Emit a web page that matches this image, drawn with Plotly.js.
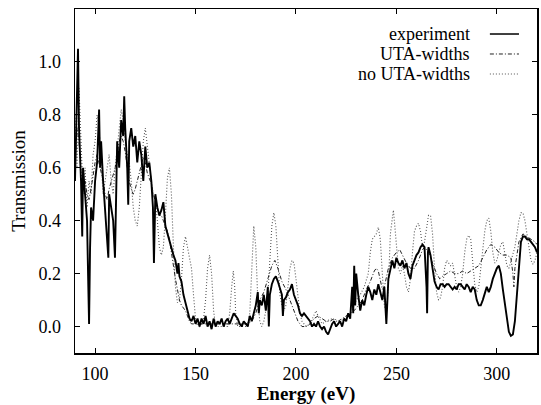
<!DOCTYPE html>
<html>
<head>
<meta charset="utf-8">
<script src="https://cdn.plot.ly/plotly-3.0.1.min.js"></script>
<style>html,body{margin:0;padding:0;background:#fff}#chart{width:541px;height:405px}</style>
</head>
<body>
<div id="chart"></div>
<script>
// experiment
const expE = [90,91,91.5,92,93,93.6,94,95,96,96.5,97,97.5,98,99,100,101,102,102.5,103,104,105,106,106.6,107,108,109,109.9,110.5,111,112,113,114,114.5,115,116,116.5,117,118,119,120,121,122,123,124,125,126,127,128,128.8,129.3,130,131,132,133,134,135,136,137,138,139,140,141,141.5,142,143,144,145,146,147,148,149,150,151,152,153,154,155,156,157,158,159,160,161,162,163,164,165,166,167,168,169,170,171,172,173,174,175,176,177,178,179,180,181,181.5,182,183,184,185,186,186.5,187,188,189,190,191,192,193,193.5,194,195,196,197,198,199,200,201,202,203,204,205,206,207,208,209,210,211,212,213,214,215,216,217,218,219,220,221,222,223,224,225,226,227,228,228.5,229,229.5,230,231,232,233,234,235,236,237,238,239,240,241,242,243,244,245,246,247,248,249,250,251,252,253,254,255,256,257,258,259,260,261,262,263,264,265,265.3,265.7,266,267,268,269,270,271,272,273,274,275,276,277,278,279,280,281,282,283,284,285,286,287,288,289,290,291,292,293,294,295,296,297,298,299,300,301,302,303,304,305,306,307,308,309,310,311,312,313,314,315,316,317,318,319,320];
const expT = [0.55,0.95,1.05,0.75,0.55,0.34,0.60,0.50,0.40,0.20,0.01,0.30,0.45,0.40,0.55,0.62,0.82,0.60,0.70,0.55,0.45,0.35,0.26,0.50,0.45,0.40,0.26,0.55,0.70,0.60,0.78,0.72,0.87,0.75,0.60,0.46,0.70,0.75,0.68,0.72,0.62,0.70,0.65,0.55,0.68,0.60,0.62,0.55,0.45,0.24,0.50,0.45,0.42,0.44,0.47,0.38,0.35,0.32,0.30,0.27,0.25,0.20,0.24,0.19,0.17,0.12,0.09,0.06,0.03,0.02,0.04,0.01,0.03,0.00,0.03,0.01,0.04,0.00,0.02,-0.01,0.03,0.00,0.02,0.01,0.03,0.00,0.02,0.03,0.01,0.03,0.05,0.04,0.03,0.01,0.00,0.02,0.01,0.00,0.04,0.02,0.05,0.08,0.13,0.05,0.10,0.08,0.12,0.06,0.15,0.00,0.12,0.16,0.18,0.19,0.17,0.14,0.12,0.04,0.10,0.11,0.13,0.14,0.16,0.12,0.10,0.08,0.05,0.04,0.05,0.04,0.03,0.02,0.00,0.01,0.00,0.02,0.00,-0.01,0.00,-0.02,-0.03,-0.01,0.01,0.02,0.00,0.01,0.02,0.00,0.03,0.02,0.05,0.03,0.15,0.05,0.23,0.08,0.20,0.12,0.06,0.10,0.08,0.12,0.15,0.13,0.10,0.14,0.12,0.16,0.13,0.10,0.15,0.01,0.18,0.22,0.25,0.22,0.26,0.24,0.23,0.25,0.22,0.24,0.20,0.18,0.23,0.25,0.27,0.28,0.30,0.31,0.30,0.15,0.05,0.28,0.30,0.27,0.22,0.17,0.15,0.14,0.16,0.16,0.15,0.16,0.16,0.15,0.14,0.15,0.14,0.16,0.16,0.15,0.14,0.16,0.15,0.13,0.15,0.14,0.10,0.08,0.08,0.10,0.13,0.15,0.13,0.15,0.18,0.20,0.22,0.23,0.20,0.14,0.08,0.02,-0.02,-0.035,-0.03,0.02,0.12,0.25,0.32,0.34,0.34,0.33,0.33,0.32,0.31,0.30,0.28];

// UTA-widths
const utaE = [90,91,92,93,94,95,96,97,98,99,100,101,102,103,104,105,106,107,108,109,110,111,112,113,114,115,116,117,118,119,120,121,122,123,124,125,126,127,128,129,130,131,132,133,134,135,136,137,138,139,140,141,142,143,144,145,146,147,148,150,155,160,165,170,175,178,180,182,184,186,188,189.5,191,193,195,197,199,201,203,205,207,209,211,213,215,217,219,221,223,225,227,229,231,233,235,237,239,240,241,242,243,244,245,246,248,250,251.7,253,255,257,259,261,263,264,266,268,270,271.6,273,275,277,279,281,283,285,287,289,291,293,295,297,299,301,303,305,307,308,308.5,309,310,311,313,315,317,319,320];
const utaT = [0.60,0.75,0.70,0.58,0.52,0.55,0.50,0.48,0.52,0.58,0.62,0.65,0.62,0.58,0.55,0.50,0.48,0.52,0.55,0.58,0.60,0.65,0.70,0.72,0.70,0.66,0.60,0.55,0.52,0.50,0.52,0.55,0.58,0.62,0.64,0.62,0.58,0.56,0.54,0.50,0.47,0.44,0.42,0.42,0.40,0.38,0.36,0.33,0.28,0.22,0.18,0.14,0.10,0.08,0.07,0.06,0.04,0.02,0.01,0.01,0.01,0.01,0.01,0.01,0.01,0.02,0.05,0.10,0.13,0.18,0.23,0.25,0.22,0.17,0.14,0.10,0.06,0.02,0.00,0.00,0.01,0.03,0.04,0.03,0.02,0.02,0.03,0.02,0.03,0.04,0.05,0.06,0.08,0.10,0.14,0.17,0.21,0.22,0.21,0.17,0.14,0.15,0.18,0.22,0.26,0.28,0.29,0.27,0.24,0.22,0.22,0.25,0.29,0.30,0.28,0.24,0.20,0.18,0.19,0.20,0.21,0.20,0.20,0.21,0.20,0.21,0.22,0.23,0.26,0.29,0.31,0.30,0.28,0.27,0.27,0.26,0.20,0.15,0.22,0.28,0.32,0.35,0.34,0.33,0.32,0.31];

// no UTA-widths
const noE = [90,91,92,93,94,95,96,97,98,99,100,101,102,103,104,105,106,107,108,109,110,111,112,113,114,115,116,117,118,119,120,121,122,123,124,125,126,127,128,129,130,131,132,133,134,135,136,137,138,139,140,141,142,143,144,145,146,147,148,149,150,151,152,153,154,155,156,157,158,159,160,166,167,168,168.8,169.5,170,171,176,177,178,179,180,181,182,183,184,185,186,187,188,189,190,191,192,193,194,195,196,197,198,199,200,201,202,203,204,205,207,209,210,211,213,215,218,220,222,224,226,228,230,232,234,236,237,238,239,240,241,242,243,244,245,246,247,248,248.5,249,250,251,252,253,254,255,256,257,258,259,260,261,262,263,264,265,266,267,268,269,270,271,272,273,274,275,276,277,278,279,280,281,282,283,284,285,286,287,288,289,290,291,292,293,294,295,296,297,298,299,300,301,302,303,304,305,306,307,308,309,310,311,312,313,314,315,316,317,318,319,320];
const noT = [0.80,0.60,0.90,0.70,0.50,0.60,0.45,0.55,0.50,0.65,0.70,0.80,0.75,0.62,0.50,0.55,0.60,0.65,0.55,0.50,0.60,0.68,0.75,0.82,0.78,0.70,0.65,0.62,0.55,0.45,0.40,0.38,0.45,0.60,0.70,0.75,0.68,0.60,0.55,0.50,0.48,0.40,0.30,0.27,0.30,0.42,0.56,0.60,0.50,0.30,0.15,0.09,0.10,0.18,0.30,0.34,0.30,0.25,0.22,0.12,0.03,0.01,0.00,0.01,0.03,0.10,0.22,0.27,0.20,0.06,0.00,0.00,0.05,0.15,0.21,0.15,0.05,0.00,0.00,0.05,0.25,0.38,0.30,0.10,0.02,0.00,0.02,0.06,0.12,0.25,0.38,0.43,0.38,0.25,0.12,0.08,0.06,0.08,0.15,0.22,0.25,0.24,0.18,0.10,0.05,0.02,0.01,0.00,0.01,0.04,0.06,0.04,0.01,0.02,0.03,0.02,0.02,0.03,0.04,0.06,0.10,0.12,0.15,0.20,0.28,0.33,0.34,0.35,0.375,0.33,0.20,0.08,0.05,0.15,0.35,0.42,0.44,0.40,0.30,0.22,0.20,0.23,0.20,0.15,0.13,0.18,0.28,0.36,0.38,0.39,0.36,0.30,0.32,0.38,0.42,0.42,0.35,0.22,0.13,0.10,0.11,0.15,0.22,0.25,0.24,0.23,0.24,0.20,0.15,0.13,0.15,0.20,0.28,0.33,0.345,0.33,0.25,0.16,0.13,0.15,0.22,0.30,0.36,0.40,0.41,0.36,0.28,0.24,0.25,0.28,0.31,0.32,0.28,0.23,0.22,0.25,0.28,0.30,0.35,0.40,0.43,0.43,0.40,0.35,0.30,0.25,0.235,0.25,0.28];

const xTicks = [100,150,200,250,300];
const yTicks = [0.0,0.2,0.4,0.6,0.8,1.0];
const yTickText = ["0.0","0.2","0.4","0.6","0.8","1.0"];
const legendNames = ["experiment","UTA-widths","no UTA-widths"];

const serif = "Liberation Serif, Times New Roman, serif";
const dashDot = "4px,2px,1px,2px";
const dotted = "1px,2px";

const traces = [
  {x: noE, y: noT, mode: "lines", name: legendNames[2], line: {color: "#555", width: 1.1, dash: dotted}},
  {x: utaE, y: utaT, mode: "lines", name: legendNames[1], line: {color: "#222", width: 1, dash: dashDot}},
  {x: expE, y: expT, mode: "lines", name: legendNames[0], line: {color: "#000", width: 1.9}}
];

const legY = [0.9273, 0.8692, 0.8110];
const legStyles = [
  {color: "#000", width: 1.5, dash: "solid"},
  {color: "#222", width: 1, dash: dashDot},
  {color: "#555", width: 1.1, dash: dotted}
];
const annotations = legendNames.map((t, i) => ({
  xref: "paper", yref: "paper", x: 0.857, y: legY[i], xanchor: "right", yanchor: "middle", align: "right",
  borderpad: 0, text: t, showarrow: false, font: {family: serif, size: 18, color: "#000"}
}));
const shapes = legendNames.map((t, i) => ({
  type: "line", xref: "paper", yref: "paper", x0: 0.898, x1: 0.961, y0: legY[i], y1: legY[i],
  line: legStyles[i]
}));

const layout = {
  width: 541, height: 405,
  margin: {l: 75, r: 4, t: 9, b: 52},
  paper_bgcolor: "#fff", plot_bgcolor: "#fff",
  showlegend: false,
  font: {family: serif, size: 18, color: "#000"},
  xaxis: {
    range: [90, 320], tickvals: xTicks, ticks: "inside", ticklen: 5, tickcolor: "#000",
    showline: true, linecolor: "#000", linewidth: 1.5, mirror: "ticks", showgrid: false, zeroline: false,
    title: {text: "<b>Energy (eV)</b>", font: {family: serif, size: 19}, standoff: 6},
    tickfont: {family: serif, size: 18}, ticklabelstandoff: 4
  },
  yaxis: {
    range: [-0.1, 1.2], tickvals: yTicks, ticktext: yTickText, ticks: "inside", ticklen: 5, tickcolor: "#000",
    showline: true, linecolor: "#000", linewidth: 1.5, mirror: "ticks", showgrid: false, zeroline: false,
    title: {text: "Transmission", font: {family: serif, size: 19}, standoff: 8},
    tickfont: {family: serif, size: 18}, ticklabelstandoff: 9
  },
  annotations: annotations,
  shapes: shapes
};

Plotly.newPlot("chart", traces, layout, {displayModeBar: false, staticPlot: true});
</script>
</body>
</html>
